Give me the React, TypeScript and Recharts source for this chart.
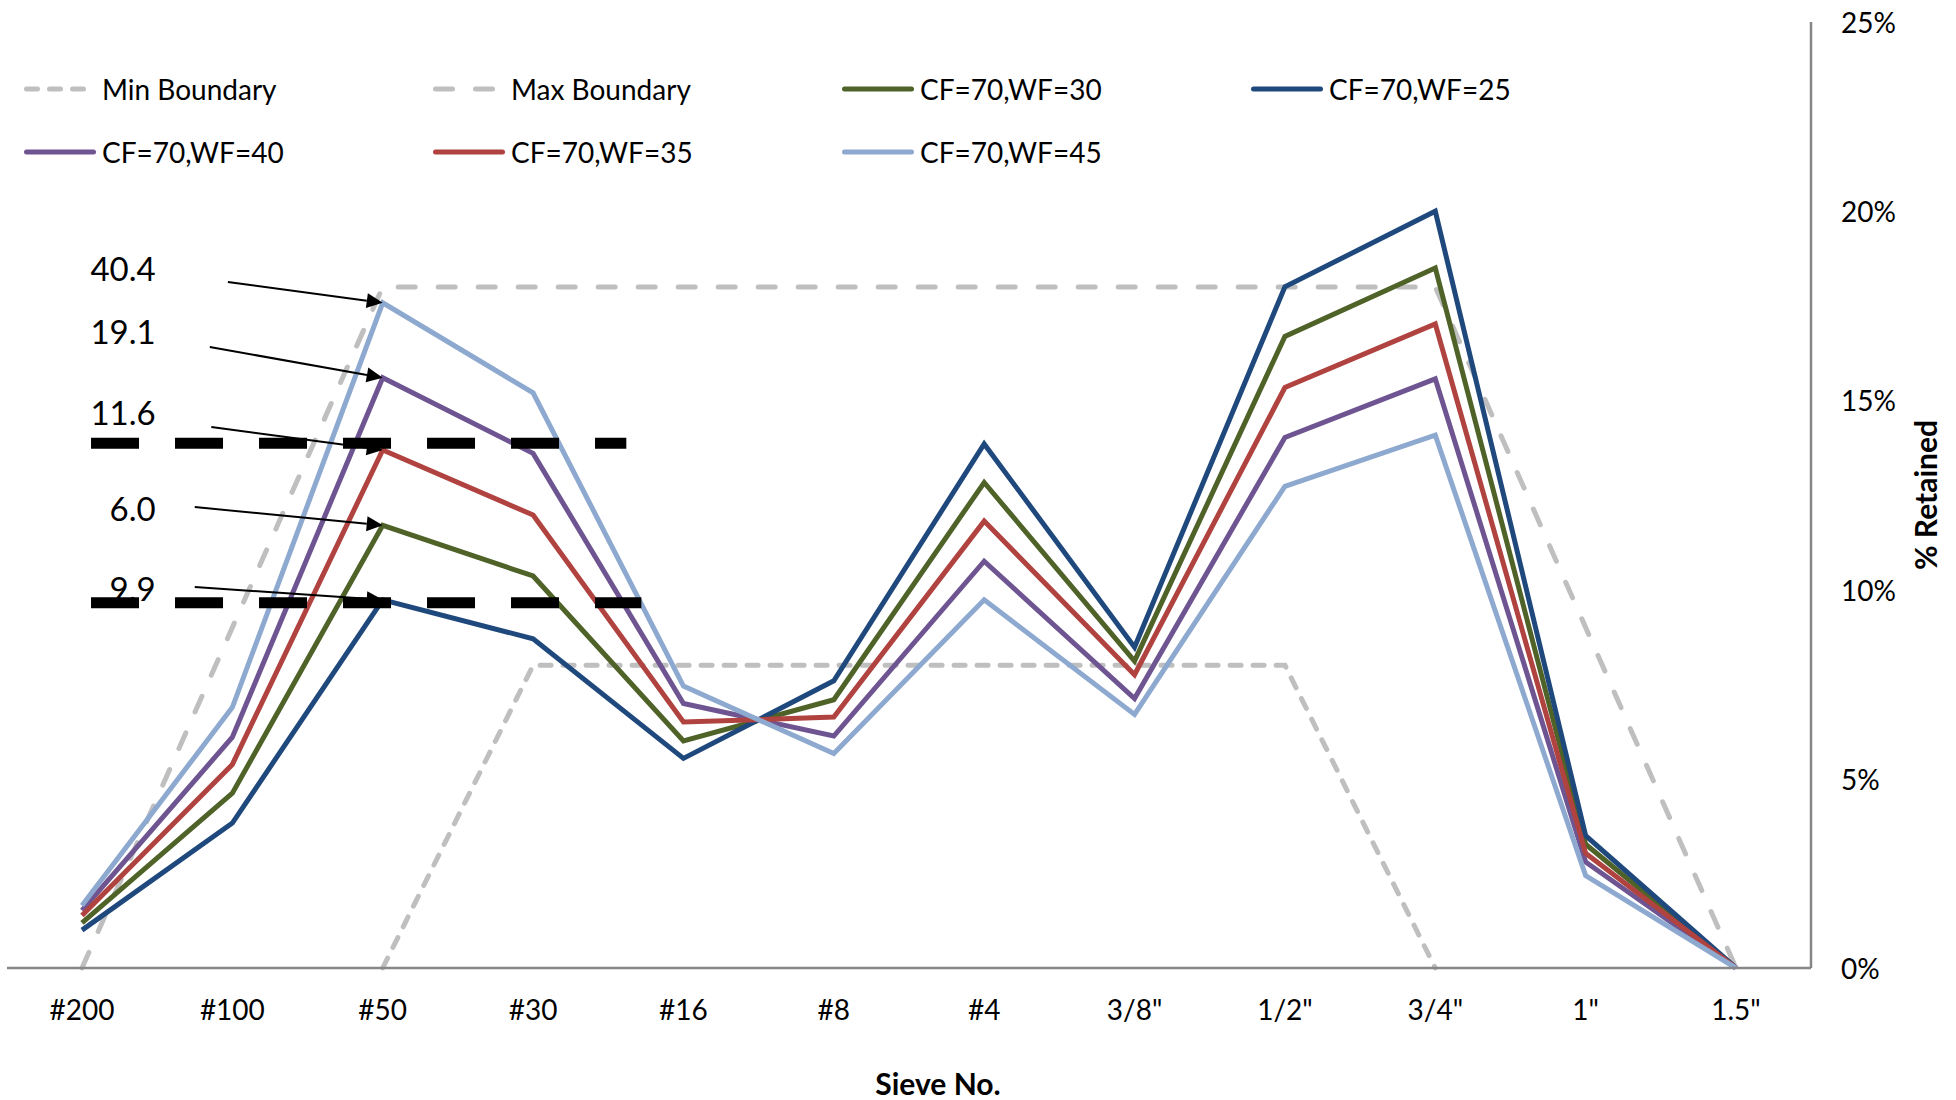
import React from 'react';
import { LineChart, Line, XAxis, YAxis, ReferenceLine, ReferenceDot, Legend } from 'recharts';

const FONT = 'Lato, "Open Sans", sans-serif';

const categories = ['#200', '#100', '#50', '#30', '#16', '#8', '#4', '3/8"', '1/2"', '3/4"', '1"', '1.5"'];
const minBoundary = [null, null, 0, 8, 8, 8, 8, 8, 8, 0, null, null];
const maxBoundary = [0, 9, 18, 18, 18, 18, 18, 18, 18, 18, 9, 0];
const wf30 = [1.19, 4.62, 11.7, 10.36, 6.0, 7.09, 12.83, 8.11, 16.69, 18.5, 3.27, 0];
const wf25 = [1.0, 3.83, 9.73, 8.7, 5.54, 7.59, 13.85, 8.48, 18.0, 20.0, 3.5, 0];
const wf40 = [1.52, 6.1, 15.6, 13.6, 6.99, 6.13, 10.75, 7.12, 14.02, 15.57, 2.8, 0];
const wf35 = [1.39, 5.38, 13.69, 11.97, 6.5, 6.63, 11.81, 7.75, 15.34, 17.02, 3.03, 0];
const wf45 = [1.65, 6.89, 17.58, 15.2, 7.45, 5.67, 9.73, 6.7, 12.73, 14.08, 2.44, 0];
const yTicks = [0, 5, 10, 15, 20, 25];

// annotation texts and the series (at #50) each arrow points to
const annotationLabels = ['40.4', '19.1', '11.6', '6.0', '9.9'];
const annotationTargets = [wf45[2], wf40[2], wf35[2], wf30[2], wf25[2]];
// label anchor (numeric x index, % value) and arrow tail
const annotationLabelPos = [
  [0.49, 18.5], [0.49, 16.83], [0.49, 14.69], [0.49, 12.16], [0.49, 10.04],
];
const annotationTailPos = [
  [0.97, 18.13], [0.85, 16.41], [0.86, 14.3], [0.75, 12.18], [0.75, 10.07],
];
// thick black dashed limit lines: [value, xStart, xEnd]
const limitLines = [
  [13.87, 0.06, 3.62],
  [9.65, 0.06, 3.72],
];

const series = [
  { key: 'min', name: 'Min Boundary', values: minBoundary, color: '#BFBFBF', dash: '11 12' },
  { key: 'max', name: 'Max Boundary', values: maxBoundary, color: '#BFBFBF', dash: '17 23' },
  { key: 'wf30', name: 'CF=70,WF=30', values: wf30, color: '#4F6228' },
  { key: 'wf25', name: 'CF=70,WF=25', values: wf25, color: '#1F497D' },
  { key: 'wf40', name: 'CF=70,WF=40', values: wf40, color: '#6E5592' },
  { key: 'wf35', name: 'CF=70,WF=35', values: wf35, color: '#B0423F' },
  { key: 'wf45', name: 'CF=70,WF=45', values: wf45, color: '#8EA9CF' },
];

const data = categories.map((c, i) => {
  const row: any = { sieve: c };
  series.forEach((s) => {
    row[s.key] = s.values[i];
  });
  return row;
});

const LegendContent = () => (
  <svg width={1700} height={130} style={{ display: 'block' }}>
    {series.map((s, i) => {
      const col = i % 4;
      const row = Math.floor(i / 4);
      const x = 24 + col * 409;
      const y = 29 + row * 63;
      return (
        <g key={s.key}>
          <line
            x1={x + 2.5}
            x2={x + 69.5}
            y1={y}
            y2={y}
            stroke={s.color}
            strokeWidth={5}
            strokeLinecap="round"
            strokeDasharray={s.dash}
          />
          <text x={x + 78} y={y} dominantBaseline="central" fontSize={28} fontFamily={FONT} fill="#000">
            {s.name}
          </text>
        </g>
      );
    })}
  </svg>
);

const ArrowShape = (props: any) => {
  const { x1, y1, x2, y2 } = props;
  if ([x1, y1, x2, y2].some((v) => typeof v !== 'number' || isNaN(v))) return null;
  const dx = x2 - x1;
  const dy = y2 - y1;
  const len = Math.hypot(dx, dy) || 1;
  const ux = dx / len;
  const uy = dy / len;
  const headLen = 16;
  const headW = 7.5;
  const bx = x2 - ux * headLen;
  const by = y2 - uy * headLen;
  const px = -uy;
  const py = ux;
  return (
    <g>
      <line x1={x1} y1={y1} x2={bx} y2={by} stroke="#000" strokeWidth={2} />
      <polygon
        points={`${x2},${y2} ${bx + px * headW},${by + py * headW} ${bx - px * headW},${by - py * headW}`}
        fill="#000"
      />
    </g>
  );
};

const XTick = (props: any) => {
  const { x, y, payload } = props;
  return (
    <text x={x} y={y + 44} textAnchor="middle" fontSize={28} fontFamily={FONT} fill="#000">
      {payload.value}
    </text>
  );
};

const YTick = (props: any) => {
  const { x, y, payload } = props;
  return (
    <text x={x} y={y} dominantBaseline="central" textAnchor="start" fontSize={28} fontFamily={FONT} fill="#000">
      {`${payload.value}%`}
    </text>
  );
};

export default function App() {
  return (
    <div style={{ position: 'absolute', left: 0, top: 0, width: 1956, height: 1100, background: '#fff' }}>
      <LineChart width={1956} height={1100} data={data} margin={{ top: 22, right: 0, bottom: 0, left: 7 }}>
        <XAxis
          dataKey="sieve"
          padding={{ left: 75, right: 75 }}
          axisLine={{ stroke: '#868686', strokeWidth: 2.5 }}
          tickLine={false}
          tickSize={6}
          tickMargin={2}
          height={132}
          interval={0}
          tick={<XTick />}
          label={(p: any) => {
            const vb = p.viewBox || {};
            return (
              <text
                x={vb.x + 931}
                y={vb.y + 127}
                textAnchor="middle"
                fontSize={30}
                fontWeight="bold"
                fontFamily={FONT}
                fill="#000"
              >
                Sieve No.
              </text>
            );
          }}
        />
        <XAxis xAxisId="num" type="number" domain={[0, 11]} allowDataOverflow hide padding={{ left: 75, right: 75 }} />
        <YAxis
          orientation="right"
          width={145}
          domain={[0, 25]}
          ticks={yTicks}
          axisLine={{ stroke: '#868686', strokeWidth: 2.5 }}
          tickLine={false}
          tickSize={6}
          tickMargin={24}
          tick={<YTick />}
          label={(p: any) => {
            const vb = p.viewBox || {};
            const cx = vb.x + 114;
            const cy = vb.y + vb.height / 2;
            return (
              <text
                x={cx}
                y={cy}
                transform={`rotate(-90 ${cx} ${cy})`}
                textAnchor="middle"
                dominantBaseline="central"
                fontSize={30}
                fontWeight="bold"
                fontFamily={FONT}
                fill="#000"
              >
                % Retained
              </text>
            );
          }}
        />
        <Legend
          layout="horizontal"
          verticalAlign="middle"
          align="center"
          wrapperStyle={{ top: 60, left: 0, width: 1700, height: 130 }}
          content={<LegendContent />}
        />
        {series.map((s) => (
          <Line
            key={s.key}
            type="linear"
            dataKey={s.key}
            name={s.name}
            stroke={s.color}
            strokeWidth={5}
            strokeDasharray={s.dash}
            strokeLinecap={s.dash ? 'round' : 'butt'}
            dot={false}
            activeDot={false}
            connectNulls={false}
            isAnimationActive={false}
          />
        ))}
        {limitLines.map((l, i) => (
          <ReferenceLine
            key={`lim${i}`}
            xAxisId="num"
            segment={[
              { x: l[1], y: l[0] },
              { x: l[2], y: l[0] },
            ]}
            stroke="#000"
            strokeWidth={11}
            strokeDasharray="48 36"
          />
        ))}
        {annotationLabels.map((t, i) => (
          <ReferenceLine
            key={`arr${i}`}
            xAxisId="num"
            segment={[
              { x: annotationTailPos[i][0], y: annotationTailPos[i][1] },
              { x: 2, y: annotationTargets[i] },
            ]}
            shape={ArrowShape}
          />
        ))}
        {annotationLabels.map((t, i) => (
          <ReferenceDot
            key={`lab${i}`}
            xAxisId="num"
            x={annotationLabelPos[i][0]}
            y={annotationLabelPos[i][1]}
            r={0}
            fill="none"
            stroke="none"
            label={(p: any) => {
              const vb = p.viewBox || {};
              return (
                <text
                  x={vb.x}
                  y={vb.y}
                  textAnchor="end"
                  dominantBaseline="central"
                  fontSize={33}
                  fontFamily={FONT}
                  fill="#000"
                >
                  {t}
                </text>
              );
            }}
          />
        ))}
      </LineChart>
    </div>
  );
}
